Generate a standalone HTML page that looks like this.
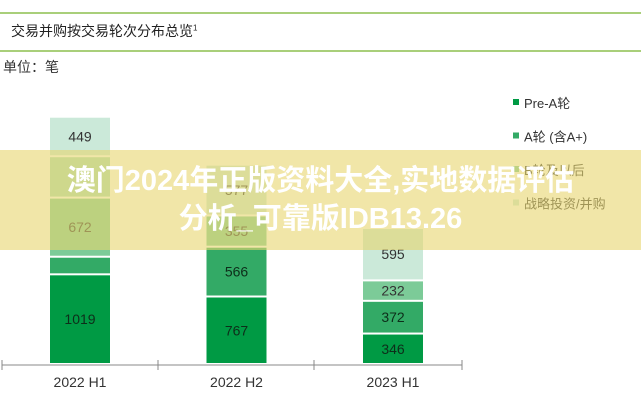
<!DOCTYPE html>
<html><head><meta charset="utf-8"><style>
body{margin:0;width:641px;height:400px;background:#fff;overflow:hidden;font-family:"Liberation Sans","Noto Sans CJK SC",sans-serif;position:relative}
.abs{position:absolute}
</style></head><body>
<div class="abs" style="left:0;top:12px;width:641px;height:2px;background:#a9cf7a"></div>
<div class="abs" style="left:11px;top:21px;font-size:14px;color:#222">交易并购按交易轮次分布总览<sup style="font-size:8px">1</sup></div>
<div class="abs" style="left:0;top:50px;width:641px;height:2px;background:#a9cf7a"></div>
<div class="abs" style="left:3px;top:57px;font-size:14px;color:#333">单位：笔</div>
<svg class="abs" style="left:0;top:0" width="641" height="400">
<g id="bars"></g>
<g id="axis"></g>
<g id="legend"></g>
</svg>
<div class="abs" style="left:0;top:150px;width:641px;height:100px;background:rgba(232,214,110,0.6)"></div>
<div class="abs" style="left:0;top:162px;width:641px;text-align:center;font-size:29px;font-weight:bold;color:#fff;line-height:38px">澳门2024年正版资料大全,实地数据评估<br>分析_可靠版IDB13.26</div>
<script>
const categories=["2022 H1","2022 H2","2023 H1"];
const seriesNames=["Pre-A轮","A轮 (含A+)","B轮及以后","C轮","战略投资/并购"];
const preA=[1019,767,346];
const roundA=[200,566,372];
const roundB=[672,355,232];
const roundC=[470,0,0];
const strategic=[449,577,595];
const labels=[[true,false,true,false,true],[true,true,true,false,true],[true,true,true,false,true]];
const colors=["#009a44","#33aa66","#7ccb98","#a8dcb9","#cbe9d9"];
const legendShow=[0,1,2,4];
const NS="http://www.w3.org/2000/svg";
const base=364, k=0.088, barW=60;
function y(v){return base-v*k;}
function xc(i){return 80+i*156.5;}
function mk(t,a,p,txt){const e=document.createElementNS(NS,t);for(const q in a)e.setAttribute(q,a[q]);if(txt!==undefined)e.textContent=txt;p.appendChild(e);return e;}
const bars=document.getElementById('bars'),axis=document.getElementById('axis'),leg=document.getElementById('legend');
const all=[preA,roundA,roundB,roundC,strategic];
categories.forEach((c,i)=>{let cum=0;
 all.forEach((s,j)=>{const v=s[i];if(!v)return;
  const y0=y(cum),y1=y(cum+v);cum+=v;
  const r=mk('rect',{x:xc(i)-barW/2,y:y1+1,width:barW,height:Math.max(0,y0-y1-2),fill:colors[j]},bars);
  
  
  if(labels[i][j]){const t=mk('text',{x:xc(i),y:(y0+y1)/2+5,'text-anchor':'middle','font-size':14,fill:j<2?'#0d2e1a':'#333'},bars,String(v));
   
   }
 });
 const l=mk('text',{x:xc(i),y:387,'text-anchor':'middle','font-size':14,fill:'#333'},axis,c);
 
 
});
const al=mk('line',{x1:2,x2:462,y1:365,y2:365,stroke:'#888','stroke-width':1},axis);


[2,158,314,462].forEach(x=>{const t=mk('line',{x1:x,x2:x,y1:360,y2:370,stroke:'#888'},axis);
 
 });
legendShow.forEach((j,n)=>{const yy=103+n*33.5;
 const g=mk('g',{},leg);
 
 
 mk('rect',{x:513,y:yy-4,width:6,height:6,fill:colors[j]},g);
 mk('text',{x:524,y:yy+5,'font-size':13,fill:'#333'},g,seriesNames[j]);
});
</script>
</body></html>
